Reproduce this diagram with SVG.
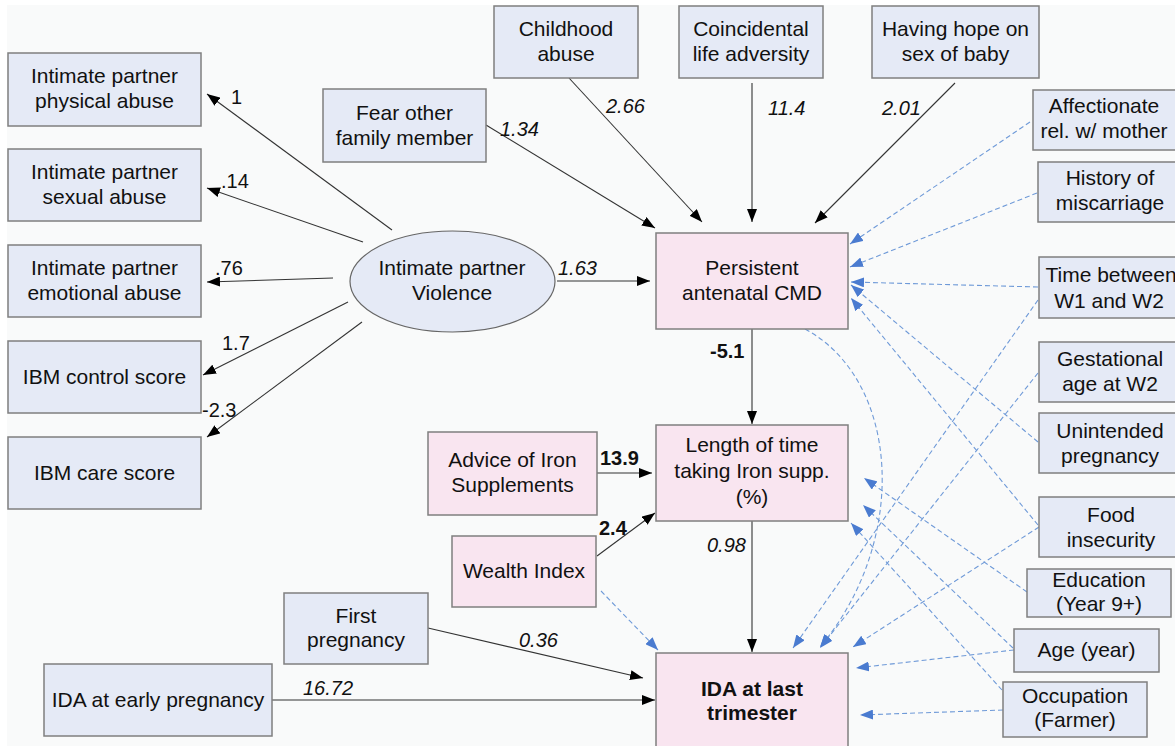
<svg xmlns="http://www.w3.org/2000/svg" width="1175" height="746" viewBox="0 0 1175 746">
<defs>
<style>
.bx{fill:#e5eaf6;stroke:#7f7f7f;stroke-width:1.5}
.pk{fill:#f9e5f0;stroke:#7f7f7f;stroke-width:1.5}
text{font-family:"Liberation Sans",Arial,sans-serif;font-size:21px;fill:#111}
.c{text-anchor:middle}
.lb{font-size:20px}
.it{font-style:italic}
.bd{font-weight:bold}
.s{fill:none;stroke:#333;stroke-width:1.1;marker-end:url(#ab)}
.d{fill:none;stroke:#6f9ad8;stroke-width:1.1;stroke-dasharray:5 3;marker-end:url(#ad)}
</style>
<marker id="ab" markerUnits="userSpaceOnUse" markerWidth="14" markerHeight="10" refX="13" refY="5" orient="auto"><path d="M0,0 L13,5 L0,10 z" fill="#000"/></marker>
<marker id="ad" markerUnits="userSpaceOnUse" markerWidth="14" markerHeight="10" refX="13" refY="5" orient="auto"><path d="M0,0 L13,5 L0,10 z" fill="#4a7bd0"/></marker>
</defs>
<rect width="1175" height="746" fill="#ffffff"/>
<rect x="7" y="5" width="1168" height="741" fill="#f9fafa"/>

<g id="connectors">
<path class="s" d="M392,230 L207,94"/>
<path class="s" d="M363,242 L207,188"/>
<path class="s" d="M333,278 L207,282"/>
<path class="s" d="M348,302 L203,375"/>
<path class="s" d="M362,322 L207,437"/>
<path class="s" d="M557,281 L650,281"/>
<path class="s" d="M486,125 L655,228"/>
<path class="s" d="M569,78 L702,222"/>
<path class="s" d="M752,83 L752,222"/>
<path class="s" d="M955,83 L815,223"/>
<path class="s" d="M752,329 L752,424"/>
<path class="s" d="M597,473 L652,473"/>
<path class="s" d="M597,556 L655,513"/>
<path class="s" d="M752,521 L752,652"/>
<path class="s" d="M428,628 L643,678"/>
<path class="s" d="M272,700 L655,700"/>

<path class="d" d="M1030,122 L850,244"/>
<path class="d" d="M1037,193 L850,267"/>
<path class="d" d="M1038,287 L851,282"/>
<path class="d" d="M1038,442 L851,285"/>
<path class="d" d="M1038,525 L851,298"/>
<path class="d" d="M1038,300 L793,648"/>
<path class="d" d="M1038,373 L820,648"/>
<path class="d" d="M1039,527 L853,647"/>
<path class="d" d="M1027,592 L864,478"/>
<path class="d" d="M1013,648 L863,505"/>
<path class="d" d="M1002,690 L851,523"/>
<path class="d" d="M1014,650 L856,668"/>
<path class="d" d="M1003,710 L860,715"/>
<path class="d" d="M601,591 L658,650"/>
<path class="d" d="M805,329 C900,380 910,540 820,647"/>

<text class="lb" x="231" y="104">1</text>
<text class="lb" x="221" y="188">.14</text>
<text class="lb" x="215" y="275">.76</text>
<text class="lb" x="222" y="350">1.7</text>
<text class="lb" x="202" y="417">-2.3</text>
<text class="lb it" x="558" y="275">1.63</text>
<text class="lb it" x="500" y="136">1.34</text>
<text class="lb it" x="606" y="113">2.66</text>
<text class="lb it" x="768" y="115">11.4</text>
<text class="lb it" x="882" y="115">2.01</text>
<text class="lb bd" x="710" y="358">-5.1</text>
<text class="lb bd" x="600" y="465">13.9</text>
<text class="lb bd" x="599" y="535">2.4</text>
<text class="lb it" x="707" y="552">0.98</text>
<text class="lb it" x="519" y="647">0.36</text>
<text class="lb it" x="303" y="695">16.72</text>
</g>

<g id="n-ipv"><ellipse cx="452.5" cy="281.5" rx="102.5" ry="50.5" fill="#e5eaf6" stroke="#666" stroke-width="1.2"/><text class="c" x="452" y="275">Intimate partner</text><text class="c" x="452" y="300">Violence</text></g>

<g id="n-phys"><rect class="bx" x="8" y="53" width="193" height="73"/><text class="c" x="104.5" y="83">Intimate partner</text><text class="c" x="104.5" y="108">physical abuse</text></g>
<g id="n-sex"><rect class="bx" x="8" y="149" width="193" height="72"/><text class="c" x="104.5" y="179">Intimate partner</text><text class="c" x="104.5" y="204">sexual abuse</text></g>
<g id="n-emo"><rect class="bx" x="8" y="245" width="193" height="72"/><text class="c" x="104.5" y="275">Intimate partner</text><text class="c" x="104.5" y="300">emotional abuse</text></g>
<g id="n-ibmc"><rect class="bx" x="8" y="341" width="193" height="72"/><text class="c" x="104.5" y="384">IBM control score</text></g>
<g id="n-ibmcare"><rect class="bx" x="8" y="437" width="193" height="72"/><text class="c" x="104.5" y="480">IBM care score</text></g>

<g id="n-fear"><rect class="bx" x="323" y="89" width="163" height="73"/><text class="c" x="404.5" y="120">Fear other</text><text class="c" x="404.5" y="145">family member</text></g>
<g id="n-child"><rect class="bx" x="494" y="6" width="144" height="72"/><text class="c" x="566" y="36">Childhood</text><text class="c" x="566" y="61">abuse</text></g>
<g id="n-coinc"><rect class="bx" x="679" y="6" width="144" height="72"/><text class="c" x="751" y="36">Coincidental</text><text class="c" x="751" y="61">life adversity</text></g>
<g id="n-hope"><rect class="bx" x="872" y="6" width="167" height="72"/><text class="c" x="955.5" y="36">Having hope on</text><text class="c" x="955.5" y="61">sex of baby</text></g>

<g id="n-affect"><rect class="bx" x="1033" y="90" width="145" height="60"/><text class="c" x="1104" y="113">Affectionate</text><text class="c" x="1104" y="138">rel. w/ mother</text></g>
<g id="n-hist"><rect class="bx" x="1038" y="162" width="145" height="60"/><text class="c" x="1110" y="185">History of</text><text class="c" x="1110" y="210">miscarriage</text></g>
<g id="n-time"><rect class="bx" x="1039" y="257" width="145" height="61"/><text class="c" x="1111" y="282">Time between</text><text class="c" x="1109" y="308">W1 and W2</text></g>
<g id="n-gest"><rect class="bx" x="1039" y="342" width="145" height="60"/><text class="c" x="1110" y="366">Gestational</text><text class="c" x="1110" y="391">age at W2</text></g>
<g id="n-unint"><rect class="bx" x="1039" y="413" width="145" height="60"/><text class="c" x="1110" y="438">Unintended</text><text class="c" x="1110" y="463">pregnancy</text></g>
<g id="n-food"><rect class="bx" x="1039" y="497" width="145" height="60"/><text class="c" x="1111" y="522">Food</text><text class="c" x="1111" y="547">insecurity</text></g>
<g id="n-edu"><rect class="bx" x="1027" y="569" width="144" height="48"/><text class="c" x="1099" y="587">Education</text><text class="c" x="1099" y="611">(Year 9+)</text></g>
<g id="n-age"><rect class="bx" x="1014" y="629" width="145" height="43"/><text class="c" x="1086.5" y="657">Age (year)</text></g>
<g id="n-occ"><rect class="bx" x="1003" y="682" width="144" height="55"/><text class="c" x="1075" y="703">Occupation</text><text class="c" x="1075" y="727">(Farmer)</text></g>

<g id="n-first"><rect class="bx" x="284" y="593" width="144" height="71"/><text class="c" x="356" y="623">First</text><text class="c" x="356" y="647">pregnancy</text></g>
<g id="n-idaearly"><rect class="bx" x="44" y="664" width="228" height="72"/><text class="c" x="158" y="707">IDA at early pregnancy</text></g>

<g id="n-cmd"><rect class="pk" x="656" y="233" width="192" height="96"/><text class="c" x="752" y="275">Persistent</text><text class="c" x="752" y="300">antenatal CMD</text></g>
<g id="n-len"><rect class="pk" x="656" y="425" width="192" height="96"/><text class="c" x="752" y="452">Length of time</text><text class="c" x="752" y="478">taking Iron supp.</text><text class="c" x="752" y="504">(%)</text></g>
<g id="n-advice"><rect class="pk" x="428" y="432" width="169" height="83"/><text class="c" x="512.5" y="467">Advice of Iron</text><text class="c" x="512.5" y="492">Supplements</text></g>
<g id="n-wealth"><rect class="pk" x="452" y="536" width="144" height="71"/><text class="c" x="524" y="578">Wealth Index</text></g>
<g id="n-idalast"><rect class="pk" x="656" y="653" width="192" height="100"/><text class="c bd" x="752" y="696">IDA at last</text><text class="c bd" x="752" y="720">trimester</text></g>
</svg>
